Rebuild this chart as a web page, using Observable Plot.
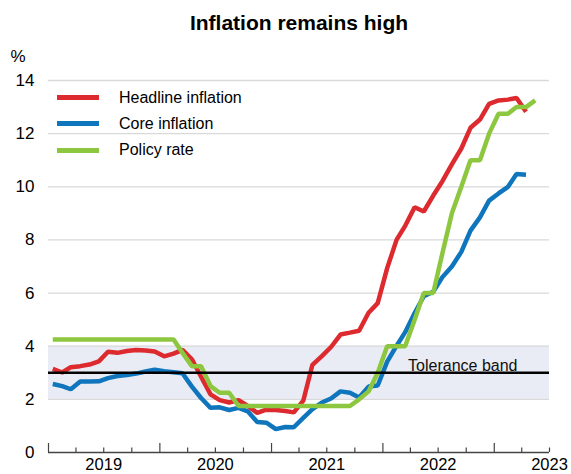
<!DOCTYPE html>
<html>
<head>
<meta charset="utf-8">
<script src="https://cdn.jsdelivr.net/npm/d3@7"></script>
<script src="https://cdn.jsdelivr.net/npm/@observablehq/plot@0.6"></script>
<style>
  html, body { margin: 0; padding: 0; background: #fff; }
  #wrap { position: relative; width: 571px; height: 474px; font-family: "Liberation Sans", Arial, sans-serif; color: #000; }
  #wrap svg { font-family: "Liberation Sans", Arial, sans-serif; color: #000; }
  .leg { position: absolute; left: 57px; font-size: 16px; line-height: 16px; }
  .leg .sw { position: absolute; left: 0; top: 5.5px; width: 42px; height: 5px; }
  .leg .tx { position: absolute; left: 62px; top: 0; white-space: nowrap; }
</style>
</head>
<body>
<div id="wrap"></div>
<script>
// ---- data (monthly, Jan 2019 onwards) ----
const title = "Inflation remains high";
const unitLabel = "%";
const seriesNames = ["Headline inflation", "Core inflation", "Policy rate"];
const seriesColors = ["#dc2a2f", "#0f75bc", "#8dc63f"];
const firstYear = 2019;
const headline = [3.15, 3.01, 3.21, 3.25, 3.31, 3.43, 3.79, 3.75, 3.82, 3.86, 3.84, 3.80,
                  3.62, 3.72, 3.86, 3.51, 2.85, 2.19, 1.97, 1.88, 1.97, 1.75, 1.49, 1.61,
                  1.60, 1.56, 1.51, 1.95, 3.30, 3.63, 3.97, 4.44, 4.51, 4.58, 5.26, 5.62,
                  6.94, 8.01, 8.53, 9.23, 9.07, 9.67, 10.21, 10.84, 11.44, 12.22, 12.53, 13.12,
                  13.25, 13.28, 13.34, 12.82];
const core = [2.58, 2.50, 2.38, 2.67, 2.67, 2.68, 2.80, 2.88, 2.92, 2.97, 3.05, 3.12,
              3.06, 3.02, 2.98, 2.48, 2.05, 1.68, 1.70, 1.60, 1.68, 1.55, 1.15, 1.12,
              0.88, 0.96, 0.95, 1.30, 1.63, 1.88, 2.03, 2.30, 2.25, 2.07, 2.48, 2.52,
              3.42, 4.02, 4.53, 5.25, 5.88, 6.05, 6.60, 7.00, 7.55, 8.35, 8.85, 9.48,
              9.75, 10.00, 10.48, 10.45];
const policy = [4.25, 4.25, 4.25, 4.25, 4.25, 4.25, 4.25, 4.25, 4.25, 4.25, 4.25, 4.25,
                4.25, 4.25, 3.75, 3.25, 3.25, 2.50, 2.25, 2.25, 1.75, 1.75, 1.75, 1.75,
                1.75, 1.75, 1.75, 1.75, 1.75, 1.75, 1.75, 1.75, 1.75, 2.00, 2.30, 3.00,
                4.00, 4.00, 4.00, 5.00, 6.00, 6.00, 7.50, 9.00, 10.00, 11.00, 11.00, 12.00,
                12.75, 12.75, 13.00, 13.00, 13.25];
const yTicks = [0, 2, 4, 6, 8, 10, 12, 14];
const gridTicks = [2, 4, 6, 8, 10, 12, 14];
const yearLabels = [2019, 2020, 2021, 2022, 2023];
const bandLow = 2, bandHigh = 4, target = 3;
const bandLabel = "Tolerance band";
const xStart = new Date(Date.UTC(2019, 0, 1));
const xEnd = new Date(Date.UTC(2023, 6, 1));

// ---- build tables ----
const toRows = arr => arr.map((v, i) => ({date: new Date(Date.UTC(firstYear, i, 15)), value: v}));
const series = [headline, core, policy].map(toRows);
const yearStarts = d3.utcYears(xStart, d3.utcDay.offset(xEnd, -1));
const quarters = d3.utcMonths(xStart, d3.utcDay.offset(xEnd, 1), 3).filter(d => d.getUTCMonth() !== 0);
const labelDates = yearLabels.map(y => new Date(Date.UTC(y, 6, 1)));
const frameH = 474 - 80 - 22;

const chart = Plot.plot({
  width: 571,
  height: 474,
  marginLeft: 48,
  marginRight: 22,
  marginTop: 80,
  marginBottom: 22,
  x: {type: "utc", domain: [xStart, xEnd]},
  y: {domain: [0, 14]},
  marks: [
    Plot.rect([{x1: xStart, x2: xEnd, y1: bandLow, y2: bandHigh}], {x1: "x1", x2: "x2", y1: "y1", y2: "y2", fill: "#e9ecf4"}),
    Plot.ruleY(gridTicks, {stroke: "#d9d9d9", strokeWidth: 1.3}),
    Plot.line(series[1], {x: "date", y: "value", stroke: seriesColors[1], strokeWidth: 4.5, strokeLinejoin: "miter", strokeLinecap: "butt"}),
    Plot.line(series[0], {x: "date", y: "value", stroke: seriesColors[0], strokeWidth: 4.5, strokeLinejoin: "miter", strokeLinecap: "butt"}),
    Plot.line(series[2], {x: "date", y: "value", stroke: seriesColors[2], strokeWidth: 4.5, strokeLinejoin: "miter", strokeLinecap: "butt"}),
    Plot.ruleY([target], {stroke: "#000", strokeWidth: 2.6}),
    Plot.text([bandLabel], {text: d => d, frameAnchor: "right", dx: -32, y: target, dy: -2, textAnchor: "end", lineAnchor: "bottom", fontSize: 16, fill: "#111"}),
    Plot.ruleY([0], {stroke: "#444", strokeWidth: 1.5}),
    Plot.tickX(quarters, {x: d => d, stroke: "#444", strokeWidth: 1.2, insetTop: frameH - 4.5}),
    Plot.tickX(yearStarts, {x: d => d, stroke: "#444", strokeWidth: 1.2, insetTop: frameH - 9}),
    Plot.axisX(labelDates, {tickSize: 0, tickPadding: 6, tickFormat: d3.utcFormat("%Y"), fontSize: 16.5, label: null}),
    Plot.axisY(yTicks, {tickSize: 0, tickPadding: 14, fontSize: 17, label: null}),
    Plot.text([title], {text: d => d, frameAnchor: "top", dy: -65, lineAnchor: "top", fontSize: 21, fontWeight: "bold", fill: "#000"}),
    Plot.text([unitLabel], {text: d => d, frameAnchor: "top-left", dx: -38, dy: -31, lineAnchor: "top", textAnchor: "start", fontSize: 17, fill: "#000"})
  ]
});

const wrap = document.getElementById("wrap");
wrap.appendChild(chart);

// legend (HTML overlay inside plot area)
const legendTops = [89.5, 115.5, 142];
seriesNames.forEach((name, i) => {
  const row = document.createElement("div");
  row.className = "leg";
  row.style.top = legendTops[i] + "px";
  const sw = document.createElement("span");
  sw.className = "sw";
  sw.style.background = seriesColors[i];
  const tx = document.createElement("span");
  tx.className = "tx";
  tx.textContent = name;
  row.appendChild(sw);
  row.appendChild(tx);
  wrap.appendChild(row);
});
</script>
</body>
</html>
